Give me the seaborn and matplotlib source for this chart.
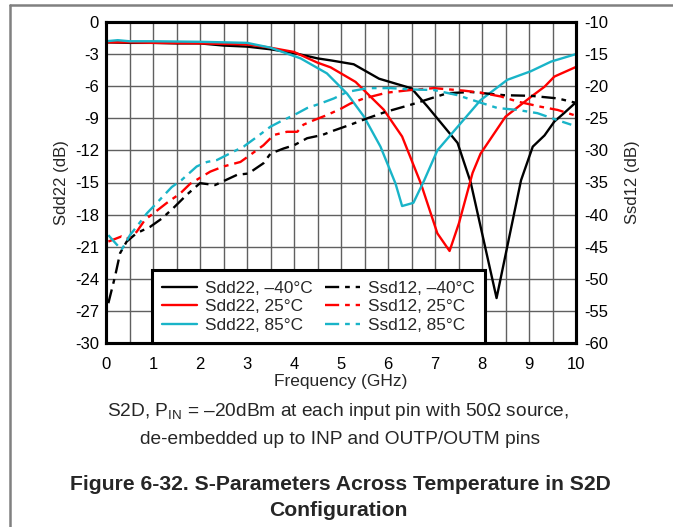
import numpy as np
import pandas as pd
import matplotlib
matplotlib.use("Agg")
import matplotlib.pyplot as plt
from matplotlib.lines import Line2D
from matplotlib.ticker import MultipleLocator
import seaborn as sns

# Sdd22 (left axis, dB)
sdd22_m40_x = [0, 0.5, 1.0, 1.5, 2.0, 2.5, 3.0, 3.5, 4.0, 4.5, 4.8, 5.27, 5.81, 6.5, 6.84,
               7.48, 7.76, 8.31, 8.83, 9.08, 9.33, 9.54, 9.75, 10]
sdd22_m40_y = [-1.9, -1.95, -1.95, -2.0, -2.0, -2.2, -2.3, -2.55, -2.9, -3.4, -3.6, -3.95, -5.3,
               -6.2, -7.9, -11.3, -15.0, -25.8, -14.8, -11.65, -10.6, -9.3, -8.5, -7.5]

sdd22_25_x = [0, 0.5, 1, 2, 3, 3.5, 4.0, 4.5, 4.78, 5.31, 5.91, 6.3, 6.7, 7.05, 7.31, 7.51,
              7.8, 7.97, 8.5, 9.04, 9.33, 9.54, 10]
sdd22_25_y = [-1.9, -1.9, -1.95, -2.0, -2.1, -2.4, -2.8, -3.8, -4.24, -5.6, -8.2, -10.7, -15.1,
              -19.75, -21.4, -18.8, -14.1, -12.3, -8.85, -7.0, -6.05, -5.1, -4.2]

sdd22_85_x = [0, 0.25, 0.5, 1, 2, 3, 3.5, 4.14, 4.7, 5.13, 5.49, 5.84, 6.16, 6.3, 6.54, 6.77,
              7.05, 7.48, 7.97, 8.54, 9.04, 9.47, 10]
sdd22_85_y = [-1.8, -1.7, -1.8, -1.8, -1.85, -1.95, -2.4, -3.4, -4.8, -6.7, -8.85, -11.65, -15.1,
              -17.2, -16.9, -14.8, -12.0, -9.8, -7.3, -5.4, -4.6, -3.7, -3.0]

# Ssd12 (right axis, dB)
ssd12_m40_x = [0.05, 0.19, 0.3, 0.44, 0.65, 0.94, 1.19, 1.43, 1.72, 2.0, 2.32, 2.79, 3.03, 3.35,
               3.5, 3.78, 4.0, 4.28, 4.6, 4.85, 5.2, 5.56, 5.95, 6.48, 6.91, 7.26, 7.76, 8.47,
               9.04, 9.61, 10]
ssd12_m40_y = [-53.8, -49.7, -46.0, -44.2, -42.9, -41.9, -40.6, -39.0, -36.9, -35.1, -35.4, -33.8,
               -33.6, -32.0, -30.5, -29.7, -29.2, -28.1, -27.6, -26.9, -26.0, -25.0, -24.0, -22.9,
               -21.9, -21.1, -20.9, -21.4, -21.5, -21.9, -22.6]

ssd12_25_x = [0.05, 0.33, 0.44, 0.65, 0.83, 1.01, 1.29, 1.58, 1.79, 2.22, 2.5, 2.86, 3.07, 3.35,
              3.57, 3.85, 4.07, 4.2, 4.42, 4.7, 5.0, 5.2, 5.49, 5.98, 6.48, 6.98, 7.62, 7.97,
              8.4, 8.76, 9.25, 9.61, 10]
ssd12_25_y = [-44.2, -43.4, -43.8, -42.7, -40.8, -39.8, -38.2, -36.7, -35.2, -33.3, -32.5, -31.8,
              -30.7, -29.2, -27.6, -27.1, -27.1, -26.0, -25.3, -24.5, -23.5, -22.7, -21.9, -21.0,
              -20.6, -20.3, -20.7, -21.0, -21.6, -22.4, -23.2, -23.7, -24.6]

ssd12_85_x = [0.05, 0.33, 0.51, 0.65, 0.87, 1.04, 1.4, 1.61, 1.93, 2.15, 2.36, 2.71, 2.93, 3.21,
              3.5, 3.71, 4.0, 4.28, 4.56, 4.85, 5.13, 5.56, 6.06, 6.48, 6.98, 7.48, 7.9, 8.33,
              8.76, 9.18, 9.61, 9.9]
ssd12_85_y = [-43.2, -45.5, -43.2, -41.9, -39.8, -38.5, -35.7, -34.6, -32.5, -31.8, -31.5, -30.2,
              -29.4, -27.9, -26.3, -25.5, -24.5, -23.4, -22.7, -21.9, -20.9, -20.3, -20.3, -20.5,
              -20.6, -21.4, -22.4, -23.4, -23.7, -24.2, -25.3, -26.0]

temps = ["\u201340\u00b0C", "25\u00b0C", "85\u00b0C"]
colors = ["#000000", "#ff0000", "#19b4c8"]

sns.set_style("white")
plt.rcParams["font.family"] = ["Liberation Sans", "DejaVu Sans"]
plt.rcParams["axes.unicode_minus"] = False
plt.rcParams["mathtext.fontset"] = "custom"
plt.rcParams["mathtext.rm"] = "Liberation Sans"

fig = plt.figure(figsize=(6.73, 5.27), dpi=100)
ax = fig.add_axes([106 / 673, 1 - 343 / 527, 470 / 673, 321 / 527])
ax2 = ax.twinx()

sdd = [(sdd22_m40_x, sdd22_m40_y), (sdd22_25_x, sdd22_25_y), (sdd22_85_x, sdd22_85_y)]
ssd = [(ssd12_m40_x, ssd12_m40_y), (ssd12_25_x, ssd12_25_y), (ssd12_85_x, ssd12_85_y)]

lw = 1.7
dash = (0, (6, 2.5, 2, 2.5))
for (x, y), t, c in zip(sdd, temps, colors):
    sns.lineplot(x=x, y=y, ax=ax, color=c, lw=lw, label=f"Sdd22, {t}", sort=False)
for (x, y), t, c in zip(ssd, temps, colors):
    sns.lineplot(x=x, y=y, ax=ax2, color=c, lw=lw, linestyle=dash, label=f"Ssd12, {t}", sort=False)

h1, l1 = ax.get_legend_handles_labels()
h2, l2 = ax2.get_legend_handles_labels()
for a in (ax, ax2):
    if a.get_legend() is not None:
        a.get_legend().remove()

ax.set_xlim(0, 10)
ax.set_ylim(-30, 0)
ax2.set_ylim(-60, -10)
ax.xaxis.set_major_locator(MultipleLocator(1))
ax.xaxis.set_minor_locator(MultipleLocator(0.5))
ax.yaxis.set_major_locator(MultipleLocator(3))
ax2.yaxis.set_major_locator(MultipleLocator(5))

ax.grid(True, which="both", color="#606060", lw=1.0)
ax2.grid(False)
ax.set_axisbelow(True)

for a in (ax, ax2):
    for s in a.spines.values():
        s.set_linewidth(2.2)
        s.set_color("black")
    a.tick_params(which="both", length=0, labelsize=12, colors="black")
ax.tick_params(axis="x", pad=10)
ax.tick_params(axis="y", pad=5)
ax2.tick_params(axis="y", pad=6)

ax.set_xlabel("Frequency (GHz)", fontsize=12.5, labelpad=1.5)
ax.set_ylabel("Sdd22 (dB)", fontsize=12, labelpad=4)
ax2.set_ylabel("Ssd12 (dB)", fontsize=12, rotation=90, labelpad=12)

leg = ax2.legend(h1 + h2, l1 + l2, ncol=2, loc="lower left", bbox_to_anchor=(0.098, 0.0),
                 borderaxespad=0, fontsize=12.4, frameon=True, fancybox=False, framealpha=1,
                 handlelength=2.0, handletextpad=0.5, labelspacing=0.2, columnspacing=0.7,
                 borderpad=0.6)
leg.get_frame().set_edgecolor("black")
leg.get_frame().set_linewidth(2.2)

fig.text(338 / 673, 1 - 412 / 527,
         "S2D, P$_{\\mathrm{IN}}$ = \u201320dBm at each input pin with 50\u03a9 source,",
         ha="center", va="center", fontsize=13.8)
fig.text(340 / 673, 1 - 440 / 527, "de-embedded up to INP and OUTP/OUTM pins",
         ha="center", va="center", fontsize=13.8)
fig.text(340 / 673, 1 - 485 / 527, "Figure 6-32. S-Parameters Across Temperature in S2D",
         ha="center", va="center", fontsize=15.2, fontweight="bold")
fig.text(338 / 673, 1 - 510 / 527, "Configuration",
         ha="center", va="center", fontsize=15.2, fontweight="bold")

# page border lines
fig.add_artist(Line2D([10 / 673, 1], [1 - 5 / 527, 1 - 5 / 527], color="#808080", lw=1.8))
fig.add_artist(Line2D([10 / 673, 10 / 673], [0, 1 - 5 / 527], color="#808080", lw=1.8))

fig.savefig("out.png", dpi=100)
